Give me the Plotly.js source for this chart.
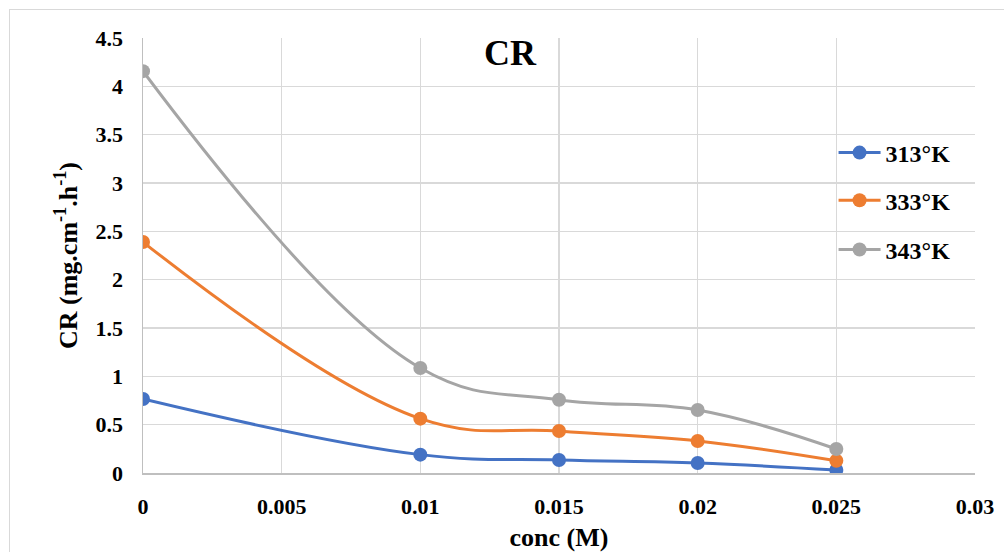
<!DOCTYPE html>
<html><head><meta charset="utf-8">
<script src="https://cdn.plot.ly/plotly-3.0.1.min.js"></script>
<style>body{margin:0;background:#fff}#frame{position:absolute;left:9px;top:9px;width:1100px;height:600px;border:1px solid #d9d9d9;pointer-events:none}#chart{width:1004px;height:552px}</style>
</head><body><div id="chart"></div><div id="frame"></div>
<script>
const conc = [0, 0.01, 0.015, 0.02, 0.025];
const cr313 = [0.765, 0.19, 0.135, 0.103, 0.031];
const cr333 = [2.389, 0.562, 0.434, 0.331, 0.126];
const cr343 = [4.157, 1.086, 0.758, 0.651, 0.248];
const names = ['313°K', '333°K', '343°K'];
const colors = ['#4472C4', '#ED7D31', '#A5A5A5'];
const series = [cr313, cr333, cr343];
const legendIds = ['legend', 'legend2', 'legend3'];
const font = {family: 'Liberation Serif, Times New Roman, serif', color: '#000'};
const traces = series.map((s, i) => ({
  x: conc, y: s, name: names[i], type: 'scatter', mode: 'lines+markers',
  line: {color: colors[i], width: 3, shape: 'spline', smoothing: 1.15},
  marker: {color: colors[i], size: 14},
  legend: legendIds[i]
}));
const legY = [0.7356, 0.626, 0.513];
const layout = {
  width: 1004, height: 552,
  margin: {l: 143, r: 29, t: 38, b: 79},
  paper_bgcolor: '#fff', plot_bgcolor: '#fff',
  font: Object.assign({size: 22, weight: 'bold'}, font),
  title: {text: '<b>CR</b>', font: Object.assign({}, font, {size: 36}), x: 0.508, xanchor: 'center', y: 0.905, yanchor: 'middle'},
  xaxis: {range: [0, 0.03], dtick: 0.005, tick0: 0, showgrid: true, gridcolor: '#d9d9d9', gridwidth: 1.5,
    showline: true, linecolor: '#bfbfbf', linewidth: 1.5, zeroline: false,
    ticks: 'outside', ticklen: 13, tickcolor: 'rgba(0,0,0,0)',
    tickfont: Object.assign({}, font, {size: 22, weight: 'bold'}),
    title: {text: '<b>conc (M)</b>', font: Object.assign({}, font, {size: 26}), standoff: 11}},
  yaxis: {range: [0, 4.5], dtick: 0.5, tick0: 0, showgrid: true, gridcolor: '#d9d9d9', gridwidth: 1.5,
    showline: true, linecolor: '#bfbfbf', linewidth: 1.5, zeroline: false,
    ticks: 'outside', ticklen: 14, tickcolor: 'rgba(0,0,0,0)',
    tickfont: Object.assign({}, font, {size: 22, weight: 'bold'}),
    title: {text: '<b>CR (mg.cm<sup>-1</sup>.h<sup>-1</sup>)</b>', font: Object.assign({}, font, {size: 26}), standoff: 10}},
  showlegend: true
};
legendIds.forEach((id, i) => {
  layout[id] = {x: 0.83, xanchor: 'left', y: legY[i], yanchor: 'middle', bgcolor: 'rgba(255,255,255,0)',
    font: Object.assign({}, font, {size: 24, weight: 'bold'}), itemwidth: 42};
});
Plotly.newPlot('chart', traces, layout, {displayModeBar: false, staticPlot: true});
</script></body></html>
